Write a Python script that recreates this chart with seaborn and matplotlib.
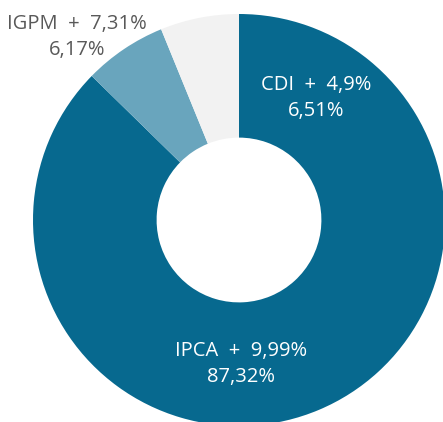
import numpy as np
import seaborn as sns
import matplotlib.pyplot as plt

# shares in %, in drawing order (clockwise from 12 o'clock)
names = ['IPCA + 9,99%', 'CDI + 4,9%', 'IGPM + 7,31%']
shares = [87.32, 6.51, 6.17]
share_txt = ['87,32%', '6,51%', '6,17%']
colors = ['#07698f', '#69a5bd', '#f2f2f2']
label_colors = ['white', 'white', '#595959']

sns.set_theme(style='white')
plt.rcParams['font.family'] = ['Open Sans', 'DejaVu Sans']

W, H = 443, 422
fig = plt.figure(figsize=(W / 100, H / 100), dpi=100)
ax = fig.add_axes([0, 0, 1, 1])

cx, cy, r = 239, H - 220, 206
ax.pie(shares, colors=colors, startangle=90, counterclock=False,
       center=(cx, cy), radius=r, frame=True,
       wedgeprops=dict(width=r * 0.6, linewidth=0))

# label spots (pixel positions, y from top) as in the original layout
label_pos = [(241, 364), (316, 98), (77, 37)]
for name, txt, col, (x, y) in zip(names, share_txt, label_colors, label_pos):
    ax.text(x, H - y, f'{name.replace(" + ", "  +  ")}\n{txt}', color=col,
            fontsize=14.5, ha='center', va='center', linespacing=1.45)

ax.set_xlim(0, W)
ax.set_ylim(0, H)
ax.set_aspect('equal')
ax.axis('off')
fig.savefig('out.png', dpi=100)
